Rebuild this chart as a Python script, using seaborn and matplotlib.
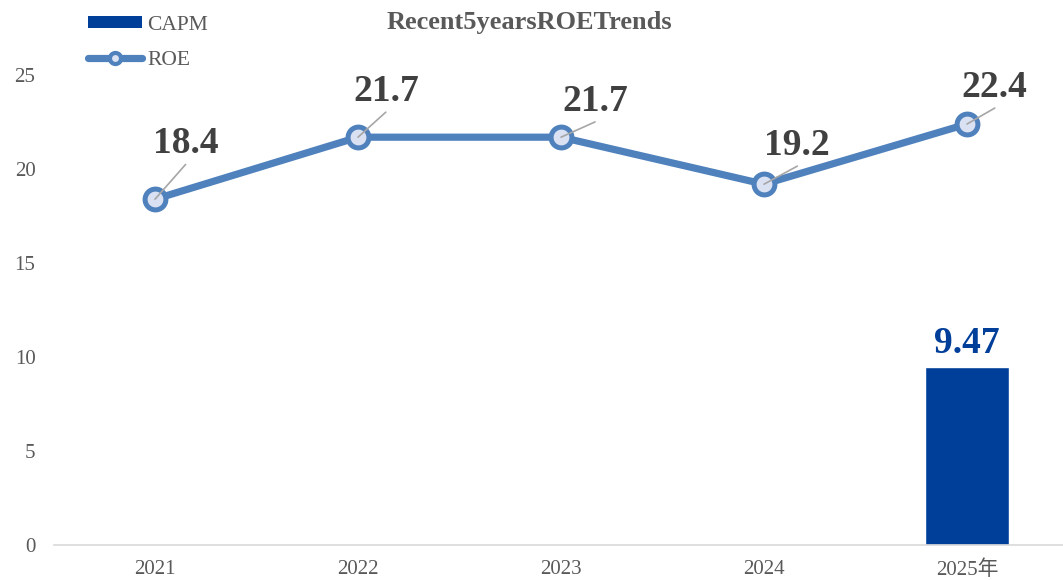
import matplotlib
matplotlib.use("Agg")
import matplotlib.pyplot as plt
import numpy as np
import pandas as pd
import seaborn as sns
from matplotlib.lines import Line2D
from matplotlib.patches import Patch

years = ["2021", "2022", "2023", "2024", "2025年"]
roe = [18.4, 21.7, 21.7, 19.2, 22.4]
capm = [np.nan, np.nan, np.nan, np.nan, 9.47]
# label baseline offsets from each ROE point, in points
label_offsets = [(22, 33), (20, 26), (24.5, 19), (24, 21), (20, 19.5)]

sns.set_theme(style="white")
plt.rcParams["font.family"] = ["Liberation Serif", "Noto Sans CJK SC"]

line_blue = "#4F81BD"
bar_blue = "#003F99"
text_gray = "#595959"

df = pd.DataFrame({"year": years, "ROE": roe, "CAPM": capm})

fig = plt.figure(figsize=(10.63, 5.8), dpi=100)
ax = fig.add_axes([53.5 / 1063, 35 / 580, 1015 / 1063, 545 / 580])

sns.barplot(data=df, x="year", y="CAPM", order=years, color=bar_blue,
            width=0.41, saturation=1, ax=ax)
sns.pointplot(data=df, x="year", y="ROE", order=years, color=line_blue,
              markers="o", linestyles="-", ax=ax, linewidth=5.2,
              markersize=15, mfc="#D9E1F2", mec=line_blue, mew=3.6)

ax.set_ylim(0, 29)
ax.set_xlim(-0.5, 4.5)
ax.set_yticks([0, 5, 10, 15, 20, 25])
ax.set_xlabel("")
ax.set_ylabel("")
for s in ["top", "right", "left"]:
    ax.spines[s].set_visible(False)
ax.spines["bottom"].set_color("#D9D9D9")
ax.spines["bottom"].set_linewidth(1.2)
ax.tick_params(axis="both", length=0, labelsize=15, labelcolor=text_gray)
ax.tick_params(axis="y", pad=13)
ax.tick_params(axis="x", pad=11)

for i, v in enumerate(roe):
    dx, dy = label_offsets[i]
    # thin leader from the point up to just under the label
    ax.annotate("", xy=(i, v), xytext=(dx, dy - 8), textcoords="offset points",
                arrowprops=dict(arrowstyle="-", color="#A6A6A6", lw=1.2,
                                shrinkA=0, shrinkB=0), zorder=5)
    ax.annotate(f"{v}", xy=(i, v), xytext=(dx, dy), textcoords="offset points",
                ha="center", va="baseline", fontsize=27, fontweight="bold",
                color="#404040")

for i, v in enumerate(capm):
    if not np.isnan(v):
        ax.annotate(f"{v}", xy=(i, v), xytext=(0, 10), textcoords="offset points",
                    ha="center", va="baseline", fontsize=27, fontweight="bold",
                    color=bar_blue)

fig.text(529 / 1063, 1 - 22 / 580, "Recent5yearsROETrends", ha="center",
         va="center", fontsize=19, fontweight="bold", color=text_gray)

handles = [
    Patch(facecolor=bar_blue, edgecolor="none", label="CAPM"),
    Line2D([0], [0], color=line_blue, lw=5.2, marker="o", markersize=8,
           mfc="#D9E1F2", mec=line_blue, mew=3, label="ROE"),
]
fig.legend(handles=handles, loc="upper left",
           bbox_to_anchor=(88 / 1063, 1 - 16 / 580), borderpad=0,
           borderaxespad=0, frameon=False, fontsize=15.5,
           labelcolor=text_gray, handlelength=2.5, handleheight=0.5,
           labelspacing=0.75, handletextpad=0.25)

fig.savefig("out.png", dpi=100)
